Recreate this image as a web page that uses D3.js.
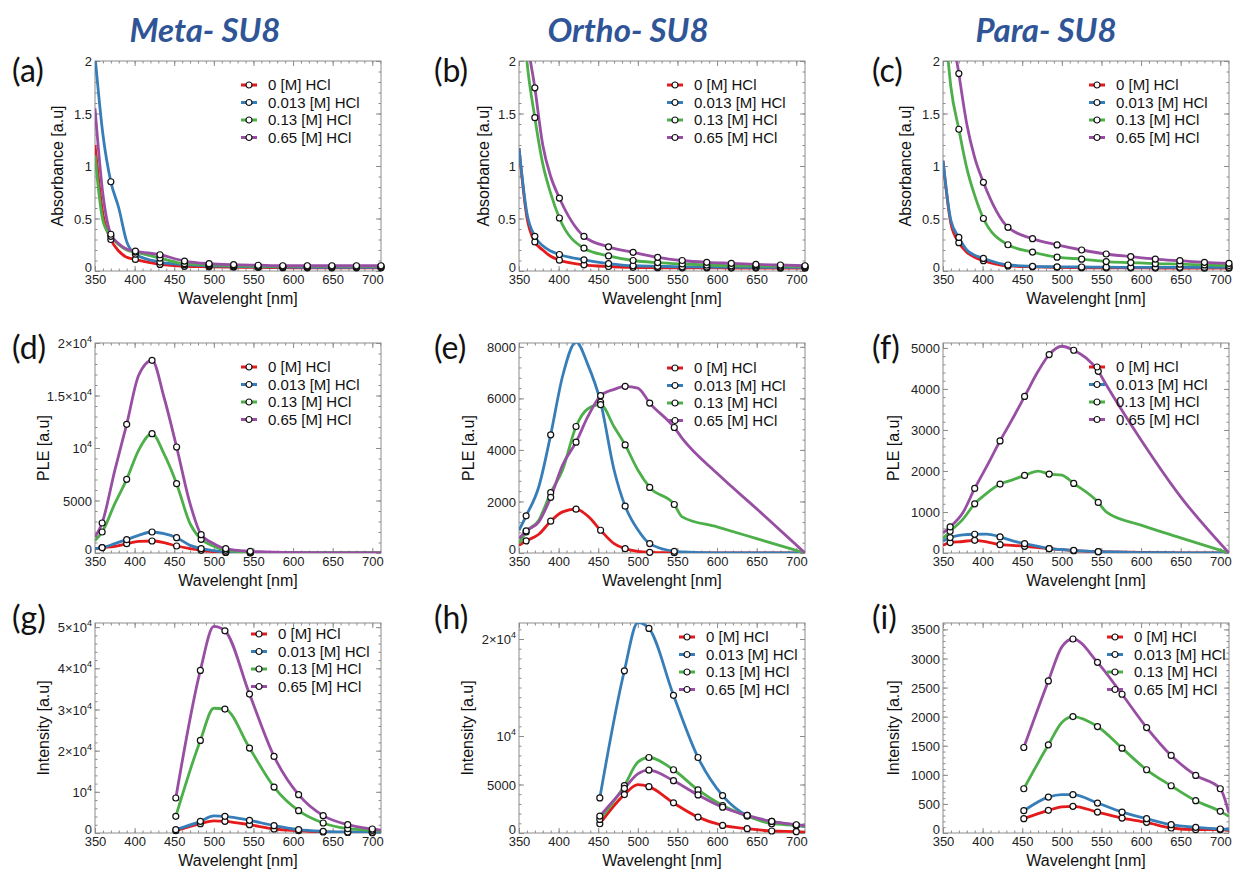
<!DOCTYPE html>
<html>
<head>
<meta charset="utf-8">
<script src="https://cdn.jsdelivr.net/npm/d3@7"></script>
<style>
body { margin: 0; background: #fff; }
svg text { font-family: "Liberation Sans", Arial, sans-serif; }
</style>
</head>
<body>
<svg id="fig" width="1233" height="869"></svg>
<script>
// series shared by every panel
const seriesNames = ["0 [M] HCl", "0.013 [M] HCl", "0.13 [M] HCl", "0.65 [M] HCl"];
const seriesColors = ["#e41a1c", "#377eb8", "#4daf4a", "#984ea3"];
const groupTitles = ["Meta- SU8", "Ortho- SU8", "Para- SU8"];
const panelLetters = ["(a)", "(b)", "(c)", "(d)", "(e)", "(f)", "(g)", "(h)", "(i)"];
const xTickValues = [350, 400, 450, 500, 550, 600, 650, 700];

// absorbance (row 1)
const absX = [350, 360, 370, 380, 390, 401, 432, 463, 494, 525, 556, 587, 618, 649, 680, 711];
const absMarks = [370, 401, 432, 463, 494, 525, 556, 587, 618, 649, 680, 711];
const metaAbs = [
  [1.2, 0.54, 0.30, 0.19, 0.13, 0.11, 0.063, 0.045, 0.04, 0.036, 0.034, 0.032, 0.03, 0.03, 0.03, 0.03],
  [2.05, 1.3, 0.85, 0.6, 0.28, 0.16, 0.085, 0.06, 0.05, 0.045, 0.04, 0.038, 0.035, 0.035, 0.035, 0.035],
  [1.1, 0.48, 0.33, 0.25, 0.2, 0.18, 0.123, 0.07, 0.058, 0.05, 0.045, 0.045, 0.045, 0.045, 0.045, 0.045],
  [1.55, 0.73, 0.35, 0.26, 0.21, 0.19, 0.155, 0.095, 0.07, 0.06, 0.055, 0.05, 0.05, 0.05, 0.05, 0.05]
];
const orthoAbs = [
  [1.17, 0.51, 0.277, 0.2, 0.14, 0.103, 0.059, 0.043, 0.035, 0.032, 0.03, 0.03, 0.028, 0.028, 0.027, 0.027],
  [1.17, 0.55, 0.33, 0.24, 0.19, 0.157, 0.106, 0.071, 0.05, 0.045, 0.04, 0.038, 0.036, 0.035, 0.035, 0.035],
  [3.0, 2.0, 1.46, 1.02, 0.74, 0.505, 0.217, 0.144, 0.10, 0.08, 0.067, 0.057, 0.05, 0.048, 0.046, 0.045],
  [3.2, 2.25, 1.745, 1.2, 0.9, 0.695, 0.33, 0.23, 0.178, 0.13, 0.1, 0.083, 0.073, 0.063, 0.057, 0.05]
];
const paraAbs = [
  [1.05, 0.45, 0.27, 0.18, 0.13, 0.098, 0.048, 0.04, 0.035, 0.032, 0.03, 0.03, 0.028, 0.028, 0.027, 0.027],
  [1.05, 0.48, 0.32, 0.2, 0.15, 0.12, 0.057, 0.045, 0.04, 0.038, 0.036, 0.035, 0.035, 0.035, 0.034, 0.034],
  [2.6, 1.75, 1.35, 0.98, 0.72, 0.5, 0.25, 0.18, 0.132, 0.113, 0.09, 0.08, 0.07, 0.065, 0.058, 0.052],
  [3.5, 2.4, 1.88, 1.4, 1.08, 0.845, 0.416, 0.308, 0.248, 0.2, 0.162, 0.137, 0.114, 0.098, 0.083, 0.073]
];

// excitation (row 2)
const pleX = [350, 359, 375, 390, 405, 422, 437, 453, 470, 484, 500, 515, 546, 556, 600, 650, 711];
const pleMarks = [359, 390, 422, 453, 484, 515, 546];
const metaPle = [
  [413, 508, 635, 889, 1111, 1143, 984, 667, 413, 254, 120, 50, 10, 5, 0, 0, 0],
  [413, 508, 889, 1270, 1683, 2000, 1841, 1460, 730, 413, 220, 95, 20, 15, 0, 0, 0],
  [1200, 2000, 4700, 7016, 9778, 11365, 9460, 6603, 2794, 1300, 650, 254, 95, 70, 20, 0, 0],
  [1520, 2857, 7873, 12254, 16900, 18350, 14857, 10095, 4700, 1746, 889, 413, 159, 120, 30, 0, 0]
];
const orthoPle = [
  [300, 468, 727, 1234, 1598, 1702, 1429, 883, 364, 169, 60, 26, 13, 10, 0, 0, 0],
  [883, 1442, 2572, 4585, 6859, 8184, 7300, 5850, 3221, 1818, 900, 364, 65, 40, 0, 0, 0],
  [364, 818, 1273, 2340, 3222, 4910, 5600, 5755, 4900, 4196, 3221, 2546, 1883, 1403, 1013, 558, 0],
  [558, 857, 1208, 2160, 3416, 4300, 5300, 6105, 6350, 6470, 6400, 5820, 4870, 4450, 3091, 1715, 0]
];
const paraPle = [
  [188, 253, 280, 310, 270, 204, 185, 163, 130, 106, 80, 57, 33, 28, 15, 5, 0],
  [290, 375, 440, 457, 460, 392, 300, 228, 160, 106, 85, 65, 33, 28, 10, 5, 0],
  [350, 530, 820, 1199, 1452, 1680, 1778, 1892, 1998, 1925, 1900, 1697, 1232, 1003, 680, 370, 0],
  [490, 636, 980, 1574, 2104, 2733, 3246, 3817, 4429, 4837, 5041, 4943, 4429, 4103, 2757, 1370, 0]
];

// emission (row 3)
const emX = [452, 483, 500, 514, 545, 576, 607, 638, 669, 700, 711];
const emMarks = [452, 483, 514, 545, 576, 607, 638, 669, 700];
const metaEm = [
  [566, 2265, 2950, 2831, 2022, 970, 566, 243, 120, 80, 60],
  [809, 2831, 4150, 4045, 3074, 1780, 809, 405, 243, 160, 140],
  [4045, 22490, 30300, 30095, 20630, 11164, 5420, 2427, 1052, 647, 550],
  [8495, 39480, 50160, 49110, 33735, 18607, 9303, 4207, 2022, 970, 700]
];
const orthoEm = [
  [956, 3959, 4983, 4778, 3106, 1638, 785, 444, 205, 137, 100],
  [3618, 16724, 21700, 21092, 14198, 7782, 3857, 1809, 1195, 785, 650],
  [1400, 4880, 7300, 7782, 6519, 4437, 2833, 1741, 956, 785, 700],
  [1741, 4600, 6100, 6485, 5393, 3925, 2662, 1809, 1195, 853, 750]
];
const paraEm = [
  [246, 389, 450, 458, 360, 257, 183, 86, 57, 57, 40],
  [383, 618, 660, 658, 515, 360, 246, 143, 97, 69, 60],
  [761, 1516, 1900, 2002, 1830, 1459, 1087, 812, 555, 372, 286],
  [1470, 2614, 3200, 3335, 2934, 2385, 1813, 1333, 990, 761, 340]
];

// y tick values and labels ("^" marks a superscript)
const absTicks = [0, 0.5, 1, 1.5, 2];
const absTickLabels = ["0", "0.5", "1", "1.5", "2"];
const metaPleTicks = [0, 5000, 10000, 15000, 20000];
const metaPleTickLabels = ["0", "5000", "10^4", "1.5×10^4", "2×10^4"];
const orthoPleTicks = [0, 2000, 4000, 6000, 8000];
const paraPleTicks = [0, 1000, 2000, 3000, 4000, 5000];
const metaEmTicks = [0, 10000, 20000, 30000, 40000, 50000];
const metaEmTickLabels = ["0", "10^4", "2×10^4", "3×10^4", "4×10^4", "5×10^4"];
const orthoEmTicks = [0, 5000, 10000, 20000];
const orthoEmTickLabels = ["0", "5000", "10^4", "2×10^4"];
const paraEmTicks = [0, 500, 1000, 1500, 2000, 2500, 3000, 3500];

const colLeft = [95, 519, 943];
const rowTop = [61, 343, 623];
const plotW = 286, plotH = 210;

const panels = [
  { x: absX, marks: absMarks, ys: metaAbs, yMax: 2.0, ticks: absTicks, labels: absTickLabels, minor: 0.1, title: "Absorbance [a.u]", titleDx: -38, legend: [249, 85] },
  { x: absX, marks: absMarks, ys: orthoAbs, yMax: 2.0, ticks: absTicks, labels: absTickLabels, minor: 0.1, title: "Absorbance [a.u]", titleDx: -36, legend: [675, 85] },
  { x: absX, marks: absMarks, ys: paraAbs, yMax: 2.0, ticks: absTicks, labels: absTickLabels, minor: 0.1, title: "Absorbance [a.u]", titleDx: -38, legend: [1097, 85] },
  { x: pleX, marks: pleMarks, ys: metaPle, yMax: 20000, ticks: metaPleTicks, labels: metaPleTickLabels, minor: 1000, title: "PLE [a.u]", titleDx: -52, legend: [249, 367] },
  { x: pleX, marks: pleMarks, ys: orthoPle, yMax: 8150, ticks: orthoPleTicks, labels: orthoPleTicks.map(String), minor: 400, title: "PLE [a.u]", titleDx: -51, legend: [675, 368] },
  { x: pleX, marks: pleMarks, ys: paraPle, yMax: 5120, ticks: paraPleTicks, labels: paraPleTicks.map(String), minor: 200, title: "PLE [a.u]", titleDx: -50, legend: [1097, 367] },
  { x: emX, marks: emMarks, ys: metaEm, yMax: 51000, ticks: metaEmTicks, labels: metaEmTickLabels, minor: 2000, title: "Intensity [a.u]", titleDx: -52, legend: [259, 634] },
  { x: emX, marks: emMarks, ys: orthoEm, yMax: 21650, ticks: orthoEmTicks, labels: orthoEmTickLabels, minor: 1000, title: "Intensity [a.u]", titleDx: -52, legend: [687, 637] },
  { x: emX, marks: emMarks, ys: paraEm, yMax: 3610, ticks: paraEmTicks, labels: paraEmTicks.map(String), minor: 100, title: "Intensity [a.u]", titleDx: -50, legend: [1115, 637] }
];

const svg = d3.select("#fig");
const frameColor = "#8c8c8c";

// column headings
groupTitles.forEach((t, i) => {
  svg.append("text")
    .attr("x", [205, 628, 1046][i]).attr("y", 42)
    .attr("text-anchor", "middle")
    .style("font-family", "Lato, 'Open Sans', sans-serif")
    .style("font-weight", "bold").style("font-style", "italic")
    .style("font-size", "33px").attr("fill", "#2f5597")
    .text(t);
});

function writeLabel(sel, s) {
  const parts = s.split("^");
  sel.text(parts[0]);
  if (parts.length > 1) {
    sel.append("tspan").attr("dy", -6).style("font-size", "9px").text(parts[1]);
  }
}

panels.forEach((p, k) => {
  const col = k % 3, row = Math.floor(k / 3);
  const left = colLeft[col], top = rowTop[row];
  const x = d3.scaleLinear().domain([350, 711]).range([0, plotW]);
  const y = d3.scaleLinear().domain([0, p.yMax]).range([plotH, 0]);

  const g = svg.append("g").attr("transform", `translate(${left},${top})`);
  const clipId = "clip" + k;
  g.append("clipPath").attr("id", clipId)
    .append("rect").attr("width", plotW).attr("height", plotH);

  // frame
  g.append("rect").attr("width", plotW).attr("height", plotH)
    .attr("fill", "none").attr("stroke", frameColor).attr("stroke-width", 1);

  const xMinor = d3.range(350, 711, 10);
  const yMinor = d3.range(0, p.yMax, p.minor);

  // inward ticks on all four sides
  const tick = (axis, tr) => {
    const a = g.append("g").attr("transform", tr).call(axis);
    a.select(".domain").remove();
    a.selectAll("line").attr("stroke", frameColor);
    return a;
  };
  tick(d3.axisBottom(x).tickValues(xMinor).tickSize(-2.5).tickFormat(""), `translate(0,${plotH})`);
  tick(d3.axisTop(x).tickValues(xMinor).tickSize(-2.5).tickFormat(""), "translate(0,0)");
  tick(d3.axisLeft(y).tickValues(yMinor).tickSize(-2.5).tickFormat(""), "translate(0,0)");
  tick(d3.axisRight(y).tickValues(yMinor).tickSize(-2.5).tickFormat(""), `translate(${plotW},0)`);
  tick(d3.axisTop(x).tickValues(xTickValues).tickSize(-5).tickFormat(""), "translate(0,0)");
  tick(d3.axisRight(y).tickValues(p.ticks).tickSize(-5).tickFormat(""), `translate(${plotW},0)`);

  const xa = tick(d3.axisBottom(x).tickValues(xTickValues).tickSize(-5).tickPadding(4), `translate(0,${plotH})`);
  xa.selectAll("text").style("font-size", "13px").attr("fill", "#222");

  const ya = tick(d3.axisLeft(y).tickValues(p.ticks).tickSize(-5).tickPadding(3).tickFormat(""), "translate(0,0)");
  ya.selectAll(".tick").each(function (d, i) {
    const t = d3.select(this).append("text")
      .attr("x", -3).attr("y", d === 0 ? -4 : 0).attr("dy", "0.35em")
      .attr("text-anchor", "end")
      .style("font-size", "13px").attr("fill", "#222");
    writeLabel(t, p.labels[i]);
  });

  // axis titles
  g.append("text")
    .attr("x", plotW / 2).attr("y", plotH + 33)
    .attr("text-anchor", "middle").style("font-size", "16px").attr("fill", "#111")
    .text("Wavelenght [nm]");
  g.append("text")
    .attr("transform", `translate(${p.titleDx},${plotH / 2}) rotate(-90)`)
    .attr("dy", "0.35em")
    .attr("text-anchor", "middle").style("font-size", "16px").attr("fill", "#111")
    .text(p.title);

  // curves
  const line = d3.line()
    .x((d, i) => x(p.x[i]))
    .y(d => y(d))
    .curve(d3.curveMonotoneX);
  const plot = g.append("g").attr("clip-path", `url(#${clipId})`);
  p.ys.forEach((vals, s) => {
    plot.append("path").datum(vals)
      .attr("d", line)
      .attr("fill", "none")
      .attr("stroke", seriesColors[s])
      .attr("stroke-width", 2.8)
      .attr("stroke-linejoin", "round");
  });
  p.ys.forEach(vals => {
    const pts = p.marks.map(m => [m, vals[p.x.indexOf(m)]]).filter(d => d[1] <= p.yMax);
    g.selectAll(null).data(pts).enter().append("circle")
      .attr("cx", d => x(d[0])).attr("cy", d => y(d[1]))
      .attr("r", 3).attr("fill", "#fff")
      .attr("stroke", "#111").attr("stroke-width", 1.2);
  });

  // legend
  const lg = svg.append("g").attr("transform", `translate(${p.legend[0]},${p.legend[1]})`);
  seriesNames.forEach((name, s) => {
    const r = lg.append("g").attr("transform", `translate(0,${s * 17.5})`);
    r.append("line").attr("x1", -8).attr("x2", 8)
      .attr("stroke", seriesColors[s]).attr("stroke-width", 3);
    r.append("circle").attr("r", 3).attr("fill", "#fff")
      .attr("stroke", "#111").attr("stroke-width", 1.2);
    r.append("text").attr("x", 19).attr("dy", "0.35em")
      .style("font-size", "15px").attr("fill", "#111")
      .text(name);
  });

  // panel letter
  svg.append("text")
    .attr("x", [12, 434, 872][col]).attr("y", [82, 359, 629][row])
    .style("font-family", "Lato, 'Open Sans', sans-serif")
    .style("font-size", "32px").attr("fill", "#111")
    .text(panelLetters[k]);
});
</script>
</body>
</html>
